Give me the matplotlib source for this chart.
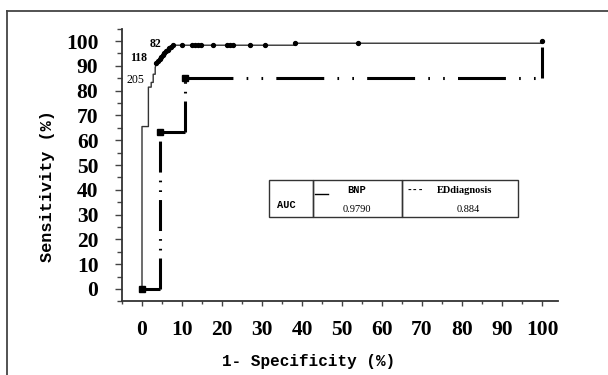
import matplotlib
matplotlib.use('Agg')
import matplotlib.pyplot as plt
from matplotlib.lines import Line2D
from matplotlib.patches import Rectangle
from matplotlib.ticker import MultipleLocator

plt.rcParams['lines.scale_dashes'] = False

# ROC curve of BNP (1-specificity %, sensitivity %)
bnp_x = [0, 0, 1.6, 1.6, 2.3, 2.3, 2.8, 2.8, 3.3, 3.3, 3.6, 4.0, 4.4, 4.8, 5.2, 5.6, 6.0, 6.4, 6.8, 7.2, 7.7,
         38.2, 38.2, 100, 100]
bnp_y = [0, 65.5, 65.5, 81.4, 81.4, 83.3, 83.3, 86.6, 86.6, 89.3, 91.0, 91.9, 92.7, 93.5, 94.3, 95.0, 95.8, 96.5,
         97.1, 97.7, 98.3, 98.3, 99.1, 99.1, 100]
# marked cut-off points on the BNP curve
bnp_mark_x = [3.6, 4.0, 4.4, 4.8, 5.2, 5.6, 6.0, 6.4, 6.8, 7.2, 7.7, 9.9, 12.4, 13.2, 14.0, 14.8, 17.7,
              21.2, 22.0, 22.8, 27.0, 30.8, 38.2, 54.1, 100]
bnp_mark_y = [91.0, 91.9, 92.7, 93.5, 94.3, 95.0, 95.8, 96.5, 97.1, 97.7, 98.3, 98.3, 98.3, 98.3, 98.3, 98.3,
              98.3, 98.3, 98.3, 98.3, 98.3, 98.3, 99.1, 99.1, 100]

# ROC curve of ED diagnosis
ed_x = [0, 4.5, 4.5, 10.75, 10.75, 100, 100]
ed_y = [0, 0, 63.2, 63.2, 85, 85, 100]
ed_mark_x = [0, 4.5, 10.75]
ed_mark_y = [0, 63.2, 85]

# cut-off labels (pg/mL)
cut_labels = ['205', '118', '82']
cut_x = [-1.75, -0.9, 3.5]
cut_y = [84.3, 93.2, 98.8]
cut_weight = ['normal', 'bold', 'bold']

auc_names = ['BNP', 'EDdiagnosis']
auc_values = ['0.9790', '0.884']

fig = plt.figure(figsize=(6.08, 3.75), dpi=100)
ax = fig.add_axes([122 / 608, 73.6 / 375, 436 / 608, 272.8 / 375])

# outer frame (left and top only)
fig.add_artist(Line2D([7 / 608, 7 / 608], [0, 1 - 11 / 375], color='#444444', lw=1.3, transform=fig.transFigure))
fig.add_artist(Line2D([7 / 608, 1], [1 - 11 / 375, 1 - 11 / 375], color='#444444', lw=1.3, transform=fig.transFigure))

ax.plot(bnp_x, bnp_y, color='#333333', lw=1.0, zorder=3)
ax.plot(bnp_mark_x, bnp_mark_y, 'o', color='black', ms=2.8, zorder=4)

# dash-dot-dot line, pattern restarts at every corner (stretched on horizontal runs)
dash_h = (0, (34.5, 9.5, 1.2, 9.5, 1.2, 9.5))
dash_v = (0, (22.3, 5.8, 1.2, 5.8, 1.2, 5.8))
for i in range(len(ed_x) - 1):
    style = dash_h if ed_y[i] == ed_y[i + 1] else dash_v
    ax.plot(ed_x[i:i + 2], ed_y[i:i + 2], color='black', lw=2.2, dash_capstyle='butt',
            linestyle=style, zorder=2)
ax.plot(ed_mark_x, ed_mark_y, 's', color='black', ms=4, zorder=4)

for lab, x, y, w in zip(cut_labels, cut_x, cut_y, cut_weight):
    ax.text(x, y, lab, ha='center', va='center', fontsize=8.5, fontweight=w, family='Liberation Serif')

ax.set_xlim(-5, 104)
ax.set_ylim(-5, 105)
ax.xaxis.set_major_locator(MultipleLocator(10))
ax.xaxis.set_minor_locator(MultipleLocator(5))
ax.yaxis.set_major_locator(MultipleLocator(10))
ax.yaxis.set_minor_locator(MultipleLocator(5))

for s in ['top', 'right']:
    ax.spines[s].set_visible(False)
for s in ['left', 'bottom']:
    ax.spines[s].set_color('#333333')
    ax.spines[s].set_linewidth(1.3)

ax.tick_params(axis='y', which='major', length=5, width=1, color='#444444', pad=12)
ax.tick_params(axis='y', which='minor', length=3.5, width=1, color='#444444')
ax.tick_params(axis='x', which='major', length=3.6, width=1, color='#444444', pad=10)
ax.tick_params(axis='x', which='minor', length=2, width=1, color='#444444')
for t in ax.get_xticklabels() + ax.get_yticklabels():
    t.set_family('Liberation Serif')
    t.set_fontweight('bold')
    t.set_fontsize(15.5)

ax.set_xlabel('1- Specificity (%)', family='Liberation Mono', fontweight='bold', fontsize=11.5)
ax.xaxis.label.set_va('center')
ax.xaxis.set_label_coords(0.429, -0.222)
ax.set_ylabel('Sensitivity (%)', family='Liberation Mono', fontweight='bold', fontsize=12.2)
ax.yaxis.label.set_va('center')
ax.yaxis.set_label_coords(-0.172, 0.421)

# AUC table
tr = ax.transAxes
cells = [(0.337, 0.438), (0.438, 0.642), (0.642, 0.908)]
for x0, x1 in cells:
    ax.add_patch(Rectangle((x0, 0.309), x1 - x0, 0.445 - 0.309, transform=tr, fill=False,
                           edgecolor='#333333', lw=1.0, clip_on=False))
ax.text(0.376, 0.353, 'AUC', transform=tr, ha='center', va='center', family='Liberation Mono',
        fontweight='bold', fontsize=7.5)
ax.plot([0.443, 0.473], [0.395, 0.395], transform=tr, color='black', lw=1.0, clip_on=False)
ax.text(0.537, 0.408, auc_names[0], transform=tr, ha='center', va='center', family='Liberation Mono',
        fontweight='bold', fontsize=7.5)
ax.text(0.539, 0.337, auc_values[0], transform=tr, ha='center', va='center', family='Liberation Serif',
        fontsize=7.5)
ax.text(0.672, 0.408, '---', transform=tr, ha='center', va='center', family='Liberation Mono',
        fontweight='bold', fontsize=7)
ax.text(0.786, 0.408, auc_names[1], transform=tr, ha='center', va='center', family='Liberation Serif',
        fontweight='bold', fontsize=7.5)
ax.text(0.794, 0.337, auc_values[1], transform=tr, ha='center', va='center', family='Liberation Serif',
        fontsize=7.5)

fig.savefig('out.png', dpi=100)
